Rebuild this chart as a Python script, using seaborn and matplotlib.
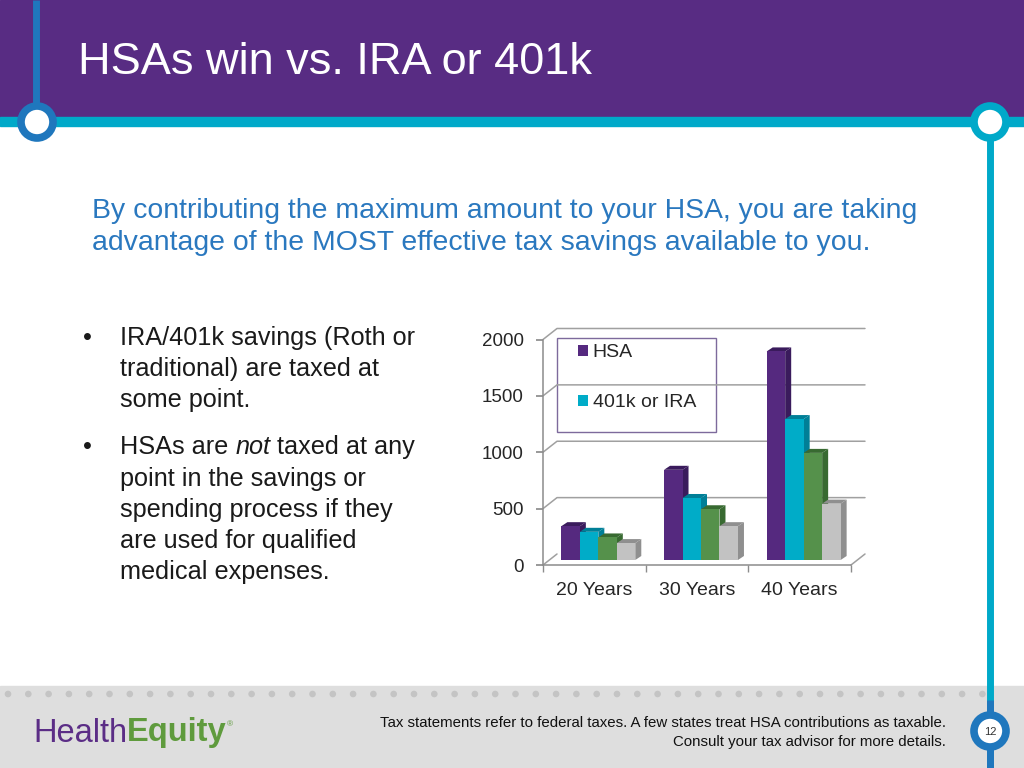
import numpy as np
import pandas as pd
import matplotlib
matplotlib.use("Agg")
import matplotlib.pyplot as plt
import matplotlib.transforms as mtransforms
import seaborn as sns
from matplotlib.patches import Rectangle, Circle, Polygon, Patch

# -------------------------
# DATA
# -------------------------
periods = ["20 Years", "30 Years", "40 Years"]
series_names = ["HSA", "401k or IRA", "Series 3", "Series 4"]
hsa_values = [300, 800, 1850]
ira_values = [250, 550, 1250]
series3_values = [200, 450, 950]
series4_values = [150, 300, 500]
y_ticks = [0, 500, 1000, 1500, 2000]

front_colors = ["#55297f", "#00acc8", "#55914b", "#c2c2c2"]
side_colors = ["#3a1b5c", "#007f97", "#386a31", "#8f8f8f"]

title_text = "HSAs win vs. IRA or 401k"
subtitle_lines = ["By contributing the maximum amount to your HSA, you are taking",
                  "advantage of the MOST effective tax savings available to you."]
bullet1_lines = ["IRA/401k savings (Roth or", "traditional) are taxed at", "some point."]
bullet2_rest = ["point in the savings or", "spending process if they",
                "are used for qualified", "medical expenses."]
footer_lines = ["Tax statements refer to federal taxes. A few states treat HSA contributions as taxable.",
                "Consult your tax advisor for more details."]
page_number = "12"

df = pd.DataFrame({
    "period": periods * 4,
    "series": sum([[s] * 3 for s in series_names], []),
    "value": hsa_values + ira_values + series3_values + series4_values,
})

# -------------------------
# FIGURE + SLIDE BACKGROUND
# -------------------------
sns.set_theme(style="white")
plt.rcParams["font.family"] = ["Liberation Sans", "DejaVu Sans"]

W, H = 1024, 768
fig = plt.figure(figsize=(10.24, 7.68), dpi=100)
bg = fig.add_axes([0, 0, 1, 1])
bg.set_xlim(0, W)
bg.set_ylim(H, 0)
bg.axis("off")

purple = "#582c83"
blue = "#1f77bd"
cyan = "#00a9c9"
text_col = "#1a1a1a"


def text_after(prev, y, s, **kw):
    # place a text right after another one on the same line
    fig.canvas.draw()
    x = prev.get_window_extent().x1
    t = bg.text(x, y, s, **kw)
    t.set_transform(mtransforms.blended_transform_factory(
        mtransforms.IdentityTransform(), bg.transData))
    return t


bg.add_patch(Rectangle((0, 0), W, 118, color=purple, zorder=1))
bg.add_patch(Rectangle((0, 117), W, 9, color=cyan, zorder=2))
bg.plot([36, 36], [0, 122], color=blue, lw=5, zorder=2, solid_capstyle="butt")
bg.plot([990, 990], [122, H], color=cyan, lw=5, zorder=2, solid_capstyle="butt")
bg.add_patch(Circle((37, 122), 16, facecolor="white", edgecolor=blue, lw=5.5, zorder=3))
bg.add_patch(Circle((990, 122), 16, facecolor="white", edgecolor=cyan, lw=5.5, zorder=3))

bg.text(78, 62, title_text, color="white", fontsize=32.5, va="center", ha="left", zorder=4)

for i, line in enumerate(subtitle_lines):
    bg.text(92, 211 + i * 32, line, color="#2a78bf", fontsize=20.4, va="center", ha="left")

# bullets
fs_b = 18.2
for y, line in zip([338, 369, 400], bullet1_lines):
    bg.text(120, y, line, fontsize=fs_b, va="center", ha="left", color=text_col)
bg.text(83, 338, "\u2022", fontsize=fs_b, va="center", ha="left", color=text_col)
bg.text(83, 447, "\u2022", fontsize=fs_b, va="center", ha="left", color=text_col)
t1 = bg.text(120, 447, "HSAs are ", fontsize=fs_b, va="center", ha="left", color=text_col)
t2 = text_after(t1, 447, "not", fontsize=fs_b, va="center", ha="left", color=text_col, style="italic")
t3 = text_after(t2, 447, " taxed at any", fontsize=fs_b, va="center", ha="left", color=text_col)
for y, line in zip([479, 510, 541, 572], bullet2_rest):
    bg.text(120, y, line, fontsize=fs_b, va="center", ha="left", color=text_col)

# footer
bg.add_patch(Rectangle((0, 686), W, H - 686, color="#dedede", zorder=0))
for x in np.arange(8, 985, 20.3):
    bg.add_patch(Circle((x, 694), 2.6, color="#c4c4c4", zorder=1))
bg.plot([990, 990], [700, H], color=blue, lw=5, zorder=2, solid_capstyle="butt")
bg.add_patch(Circle((990, 731), 16, facecolor="white", edgecolor=blue, lw=5.5, zorder=3))
bg.text(990, 732, page_number, fontsize=8, ha="center", va="center", color="#333333", zorder=4)

th = bg.text(33, 733, "Health", fontsize=23.5, color="#5b2d86", va="center", ha="left")
te = text_after(th, 733, "Equity", fontsize=23.5, color="#5f9b3d", fontweight="bold",
                va="center", ha="left")
tr = text_after(te, 725, "\u00ae", fontsize=6, color="#5f9b3d", va="center", ha="left")

for i, line in enumerate(footer_lines):
    bg.text(946, 723 + i * 19, line, fontsize=10.8, ha="right", va="center", color="#111111")

# -------------------------
# CHART (front plane of the pseudo 3D box)
# -------------------------
ax_left, ax_right, ax_top, ax_bottom = 543, 851, 339.5, 565
ax = fig.add_axes([ax_left / W, 1 - ax_bottom / H,
                   (ax_right - ax_left) / W, (ax_bottom - ax_top) / H])
ax.patch.set_alpha(0)

sns.barplot(data=df, x="period", y="value", hue="series", hue_order=series_names,
            order=periods, palette=front_colors, width=0.72, gap=0, saturation=1,
            edgecolor="none", linewidth=0, legend=False, ax=ax, zorder=3)

ax.set_xlim(-0.5, 2.5)
ax.set_ylim(0, 2000)

px_x = 3.0 / (ax_right - ax_left)
px_y = 2000.0 / (ax_bottom - ax_top)

# bars sit a bit back from the front floor edge
bar_tr = mtransforms.offset_copy(ax.transData, fig, x=4, y=5, units="dots")
bars = list(ax.patches)
for p in bars:
    p.set_transform(bar_tr)
    p.set_clip_on(False)

dx, dy = 6 * px_x, 4 * px_y
for bar, s in zip(bars, [s for s in series_names for _ in periods]):
    k = series_names.index(s)
    x0, w, h = bar.get_x(), bar.get_width(), bar.get_height()
    side = Polygon([(x0 + w, 0), (x0 + w + dx, dy), (x0 + w + dx, h + dy), (x0 + w, h)],
                   closed=True, facecolor=side_colors[k], edgecolor="none", zorder=2,
                   clip_on=False, transform=bar_tr)
    top = Polygon([(x0, h), (x0 + dx, h + dy), (x0 + w + dx, h + dy), (x0 + w, h)],
                  closed=True, facecolor=side_colors[k], edgecolor="none", zorder=2,
                  clip_on=False, transform=bar_tr)
    ax.add_patch(side)
    ax.add_patch(top)

# back wall gridlines and floor
wall_dx, wall_dy = 14 * px_x, 11 * px_y
grid_col = "#a0a0a0"
for v in y_ticks[1:]:
    ax.plot([-0.5, -0.5 + wall_dx, 2.5 + wall_dx], [v, v + wall_dy, v + wall_dy],
            color=grid_col, lw=1.1, zorder=1, clip_on=False)
ax.plot([-0.5, -0.5 + wall_dx], [0, wall_dy], color=grid_col, lw=1.1, zorder=1, clip_on=False)
ax.plot([2.5, 2.5 + wall_dx], [0, wall_dy], color=grid_col, lw=1.1, zorder=1, clip_on=False)

ax.set_yticks(y_ticks)
ax.set_yticklabels([str(v) for v in y_ticks], fontsize=13.5)
ax.grid(False)
ax.set_xlabel("")
ax.set_ylabel("")
ax.tick_params(axis="y", length=5, color="#8c8c8c", pad=9, left=True)
ax.tick_params(axis="x", length=0, pad=12, labelsize=14)
ax.set_xticks([-0.5, 0.5, 1.5, 2.5], minor=True)
ax.tick_params(axis="x", which="minor", length=5, color="#8c8c8c", bottom=True)
for side_name in ["top", "right"]:
    ax.spines[side_name].set_visible(False)
for side_name in ["left", "bottom"]:
    ax.spines[side_name].set_color("#8c8c8c")
    ax.spines[side_name].set_linewidth(1.1)

# legend box (only the first two series are visible in the frame)
bg.add_patch(Rectangle((557, 338), 159, 94, facecolor="white", edgecolor="#7d6a9c",
                       lw=1, zorder=5))
handles = [Patch(facecolor=front_colors[i], edgecolor="none") for i in range(2)]
leg = ax.legend(handles, series_names[:2], loc="upper left",
                fontsize=14, frameon=False, borderpad=0, labelspacing=1.72,
                handlelength=0.5, handleheight=0.5, handletextpad=0.25, borderaxespad=0)
leg.set_bbox_to_anchor((578 / W, 1 - 344 / H), transform=fig.transFigure)
leg.set_zorder(6)

fig.savefig("out.png", dpi=100)
